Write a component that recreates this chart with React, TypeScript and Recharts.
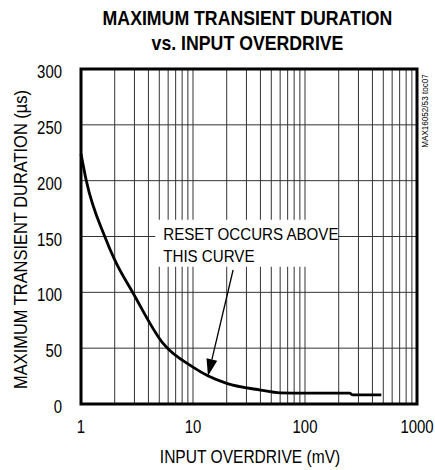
import {
  LineChart,
  Line,
  XAxis,
  YAxis,
  CartesianGrid,
  ReferenceArea,
  ReferenceLine,
  Label,
} from "recharts"

// curve (mV -> µs)
const overdrive = [1, 1.115, 1.63, 2, 2.93, 5.43, 10, 13.7, 20, 40, 60, 100, 250, 268, 480]
const duration = [224, 200, 150, 129, 99, 54, 33, 25, 18.5, 12.5, 10, 9.7, 9.7, 8.2, 8.2]

const X_TICKS = [
  1, 2, 3, 4, 5, 6, 7, 8, 9,
  10, 20, 30, 40, 50, 60, 70, 80, 90,
  100, 200, 300, 400, 500, 600, 700, 800, 900,
  1000,
]
const X_LABELS = [1, 10, 100, 1000]
const Y_TICKS = [0, 50, 100, 150, 200, 250, 300]

const TITLE = ["MAXIMUM TRANSIENT DURATION", "vs. INPUT OVERDRIVE"]
const X_TITLE = "INPUT OVERDRIVE (mV)"
const Y_TITLE = "MAXIMUM TRANSIENT DURATION (µs)"
const NOTE = ["RESET OCCURS ABOVE", "THIS CURVE"]
const PART = "MAX16052/53 toc07"

const FONT = "'Liberation Sans', Arial, sans-serif"

type Point = { mv: number; us: number }
const data: Point[] = overdrive.map((mv, i) => ({ mv, us: duration[i] }))

// Arial-narrow look: squeeze Liberation Sans horizontally
const NText = ({ x, y, size, k, anchor = "start", rotate, children }: any) => (
  <text
    transform={`translate(${x} ${y})${rotate ? ` rotate(${rotate})` : ""} scale(${k} 1)`}
    textAnchor={anchor}
    fontSize={size}
    fontFamily={FONT}
    fill="#000"
  >
    {children}
  </text>
)

const XTick = ({ x, y, payload }: any) =>
  X_LABELS.includes(payload.value) ? (
    <NText x={x} y={y + 13} size={18} k={0.83} anchor="middle">
      {payload.value}
    </NText>
  ) : (
    <g />
  )

const YTick = ({ x, y, payload }: any) => (
  <NText x={x} y={y + 9} size={18} k={0.83} anchor="end">
    {payload.value}
  </NText>
)

const renderXTitle = ({ viewBox }: any) => (
  <NText x={viewBox.x + viewBox.width / 2 + 1} y={463} size={17.5} k={0.89} anchor="middle">
    {X_TITLE}
  </NText>
)

const renderYTitle = ({ viewBox }: any) => (
  <NText x={27} y={viewBox.y + viewBox.height / 2 + 3} size={17.5} k={0.94} anchor="middle" rotate={-90}>
    {Y_TITLE}
  </NText>
)

const renderNote = ({ viewBox }: any) => (
  <g>
    {NOTE.map((line, i) => (
      <NText key={line} x={viewBox.x + 8} y={viewBox.y + 20 + i * 22} size={17} k={0.89}>
        {line}
      </NText>
    ))}
  </g>
)

const Arrow = (p: any) => {
  const { x1, y1, x2, y2 } = p
  const a = Math.atan2(y2 - y1, x2 - x1)
  const len = 17
  const half = 5.5
  const bx = x2 - len * Math.cos(a)
  const by = y2 - len * Math.sin(a)
  const nx = -Math.sin(a) * half
  const ny = Math.cos(a) * half
  return (
    <g>
      <line x1={x1} y1={y1} x2={bx} y2={by} stroke="#000" strokeWidth={1.3} />
      <polygon points={`${x2},${y2} ${bx + nx},${by + ny} ${bx - nx},${by - ny}`} fill="#000" />
    </g>
  )
}

export default function App() {
  return (
    <div style={{ position: "absolute", left: 0, top: 0, width: 435, height: 470, background: "#fff" }}>
      <div
        style={{
          position: "absolute",
          left: 0,
          top: 5,
          width: 495,
          textAlign: "center",
          fontFamily: FONT,
          fontWeight: "bold",
          fontSize: 21,
          lineHeight: "25px",
          color: "#000",
          transform: "scaleX(0.843)",
          transformOrigin: "247.5px 0",
        }}
      >
        {TITLE.map((t) => (
          <div key={t}>{t}</div>
        ))}
      </div>
      <div
        style={{
          position: "absolute",
          left: 425,
          top: 111,
          transform: "translate(-50%, -50%) rotate(-90deg) scaleX(0.9)",
          whiteSpace: "nowrap",
          fontFamily: FONT,
          fontSize: 9,
          color: "#000",
        }}
      >
        {PART}
      </div>
      <LineChart
        width={435}
        height={470}
        data={data}
        margin={{ top: 69, right: 18, bottom: 26, left: 0 }}
      >
        <CartesianGrid stroke="#333" strokeWidth={1} />
        <XAxis
          dataKey="mv"
          type="number"
          scale="log"
          domain={[1, 1000]}
          ticks={X_TICKS}
          interval={0}
          axisLine={false}
          tickLine={false}
          height={40}
          tickMargin={10}
          tick={<XTick />}
        >
          <Label content={renderXTitle} />
        </XAxis>
        <YAxis
          type="number"
          domain={[0, 300]}
          ticks={Y_TICKS}
          interval={0}
          width={81}
          axisLine={false}
          tickLine={false}
          tickMargin={13}
          tick={<YTick />}
        >
          <Label content={renderYTitle} />
        </YAxis>
        <ReferenceArea
          x1={4.6}
          x2={197}
          y1={123}
          y2={165}
          fill="#fff"
          fillOpacity={1}
          stroke="none"
          label={renderNote}
        />
        <Line
          dataKey="us"
          type="monotone"
          stroke="#000"
          strokeWidth={2.8}
          dot={false}
          isAnimationActive={false}
        />
        <ReferenceLine
          segment={[
            { x: 22.8, y: 120 },
            { x: 13.6, y: 25 },
          ]}
          shape={Arrow}
        />
        <ReferenceArea
          x1={1}
          x2={1000}
          y1={0}
          y2={300}
          fill="none"
          stroke="#000"
          strokeWidth={3}
        />
      </LineChart>
    </div>
  )
}
